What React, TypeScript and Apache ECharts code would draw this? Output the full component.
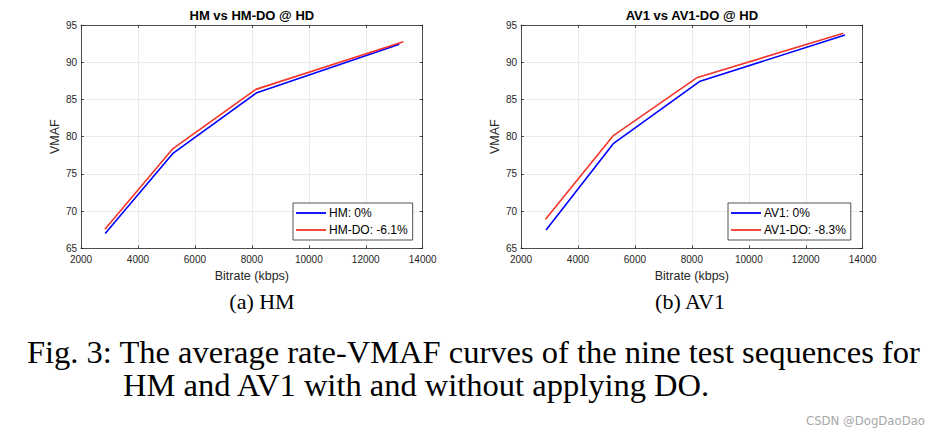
import React, { useEffect, useRef } from "react";
import * as echarts from "echarts";

// Left panel: HM vs HM-DO
const hmBitrate = [2850, 5240, 8150, 13180];
const hmVmaf = [67.0, 77.8, 85.85, 92.4];
const hmDoBitrate = [2840, 5230, 8140, 13320];
const hmDoVmaf = [67.55, 78.4, 86.35, 92.75];
// Right panel: AV1 vs AV1-DO
const av1Bitrate = [2880, 5240, 8290, 13380];
const av1Vmaf = [67.45, 79.05, 87.45, 93.65];
const av1DoBitrate = [2860, 5230, 8170, 13320];
const av1DoVmaf = [68.9, 80.1, 87.9, 93.9];

const seriesNames = ["HM: 0%", "HM-DO: -6.1%", "AV1: 0%", "AV1-DO: -8.3%"];
const panelTitles = ["HM vs HM-DO @ HD", "AV1 vs AV1-DO @ HD"];
const subCaptions = ["(a) HM", "(b) AV1"];
const figLines = [
  "Fig. 3: The average rate-VMAF curves of the nine test sequences for",
  "HM and AV1 with and without applying DO.",
];
const watermark = "CSDN @DogDaoDao";

const X_MIN = 2000, X_MAX = 14000, X_INT = 2000;
const Y_MIN = 65, Y_MAX = 95, Y_INT = 5;

const SANS = "Liberation Sans, Arial, Helvetica, sans-serif";
const SERIF = "Liberation Serif, Times New Roman, serif";
const AXIS_COLOR = "#262626";

const pairs = (xs: number[], ys: number[]) => xs.map((x, i) => [x, ys[i]]);

export default function App() {
  const ref = useRef<HTMLDivElement>(null);
  useEffect(() => {
    if (!ref.current) return;
    const chart = echarts.init(ref.current, null, { renderer: "svg" });

    const grids = [
      { left: 81, right: 940 - 422.7, top: 25, bottom: 436 - 248.3 },
      { left: 521, right: 940 - 862.7, top: 25, bottom: 436 - 248.3 },
    ];
    const centers = [(81 + 422.7) / 2, (521 + 862.7) / 2];
    const plain = (v: number) => String(v);

    const xAxes: any[] = [];
    const yAxes: any[] = [];
    [0, 1].forEach((g) => {
      xAxes.push({
        type: "value", gridIndex: g, min: X_MIN, max: X_MAX, interval: X_INT, position: "bottom",
        name: "Bitrate (kbps)", nameLocation: "middle", nameGap: 19,
        nameTextStyle: { fontSize: 12.5, color: AXIS_COLOR, fontFamily: SANS },
        axisLine: { show: true, lineStyle: { color: AXIS_COLOR, width: 0.8 } },
        axisTick: { show: true, inside: true, length: 3, lineStyle: { color: AXIS_COLOR, width: 0.8 } },
        axisLabel: { fontSize: 10, color: AXIS_COLOR, fontFamily: SANS, margin: 6, formatter: plain },
        splitLine: { show: true, lineStyle: { color: "#e6e6e6", width: 0.8 } },
      });
      xAxes.push({
        type: "value", gridIndex: g, min: X_MIN, max: X_MAX, interval: X_INT, position: "top",
        axisLine: { show: true, lineStyle: { color: AXIS_COLOR, width: 0.8 } },
        axisTick: { show: true, inside: true, length: 3, lineStyle: { color: AXIS_COLOR, width: 0.8 } },
        axisLabel: { show: false },
        splitLine: { show: false },
      });
      yAxes.push({
        type: "value", gridIndex: g, min: Y_MIN, max: Y_MAX, interval: Y_INT, position: "left",
        name: "VMAF", nameLocation: "middle", nameGap: 20,
        nameTextStyle: { fontSize: 12.5, color: AXIS_COLOR, fontFamily: SANS },
        axisLine: { show: true, lineStyle: { color: AXIS_COLOR, width: 0.8 } },
        axisTick: { show: true, inside: true, length: 3, lineStyle: { color: AXIS_COLOR, width: 0.8 } },
        axisLabel: { fontSize: 10, color: AXIS_COLOR, fontFamily: SANS, margin: 4, formatter: plain },
        splitLine: { show: true, lineStyle: { color: "#e6e6e6", width: 0.8 } },
      });
      yAxes.push({
        type: "value", gridIndex: g, min: Y_MIN, max: Y_MAX, interval: Y_INT, position: "right",
        axisLine: { show: true, lineStyle: { color: AXIS_COLOR, width: 0.8 } },
        axisTick: { show: true, inside: true, length: 3, lineStyle: { color: AXIS_COLOR, width: 0.8 } },
        axisLabel: { show: false },
        splitLine: { show: false },
      });
    });

    const mkSeries = (name: string, data: number[][], g: number, color: string) => ({
      type: "line", name, data, xAxisIndex: g * 2, yAxisIndex: g * 2,
      symbol: "none", showSymbol: false,
      lineStyle: { color, width: 1.6 }, itemStyle: { color },
    });

    const BLUE = "#0000ff";
    const RED = "#f5352b";

    const legendBase = {
      orient: "vertical", top: 203, icon: "rect", itemWidth: 30, itemHeight: 1.8, itemGap: 3,
      padding: [3, 5, 3, 3], borderColor: AXIS_COLOR, borderWidth: 0.8, borderRadius: 0,
      backgroundColor: "#ffffff",
      textStyle: { fontSize: 12, lineHeight: 14, color: "#000", fontFamily: SANS, padding: [0, 0, 0, -2] },
    };

    const textEl = (text: string, x: number, y: number, size: number, family: string, opts: any = {}) => ({
      type: "text", x, y, silent: true,
      style: {
        text, fontSize: size, fontFamily: family, fill: opts.fill || "#000",
        fontWeight: opts.weight || "normal",
        align: opts.align || "center", verticalAlign: "middle",
        textAlign: opts.align || "center", textVerticalAlign: "middle",
      },
    });

    chart.setOption({
      animation: false,
      backgroundColor: "#ffffff",
      grid: grids,
      xAxis: xAxes,
      yAxis: yAxes,
      legend: [
        { ...legendBase, left: 293, data: [seriesNames[0], seriesNames[1]] },
        { ...legendBase, left: 728, data: [seriesNames[2], seriesNames[3]] },
      ],
      series: [
        mkSeries(seriesNames[0], pairs(hmBitrate, hmVmaf), 0, BLUE),
        mkSeries(seriesNames[1], pairs(hmDoBitrate, hmDoVmaf), 0, RED),
        mkSeries(seriesNames[2], pairs(av1Bitrate, av1Vmaf), 1, BLUE),
        mkSeries(seriesNames[3], pairs(av1DoBitrate, av1DoVmaf), 1, RED),
      ],
      graphic: [
        textEl(panelTitles[0], centers[0], 15, 13, SANS, { weight: "bold" }),
        textEl(panelTitles[1], centers[1], 15, 13, SANS, { weight: "bold" }),
        textEl(subCaptions[0], 262, 301, 22, SERIF),
        textEl(subCaptions[1], 690, 301, 22, SERIF),
        textEl(figLines[0], 27, 352, 32.5, SERIF, { align: "left" }),
        textEl(figLines[1], 123, 385, 32.5, SERIF, { align: "left" }),
        textEl(watermark, 925, 420, 13, "Liberation Sans Narrow, DejaVu Sans Condensed, sans-serif", { align: "right", fill: "#a8a8a8" }),
      ],
    });
    return () => chart.dispose();
  }, []);
  return (
    <div
      ref={ref}
      style={{ position: "fixed", left: 0, top: 0, width: 940, height: 436, background: "#fff" }}
    />
  );
}
